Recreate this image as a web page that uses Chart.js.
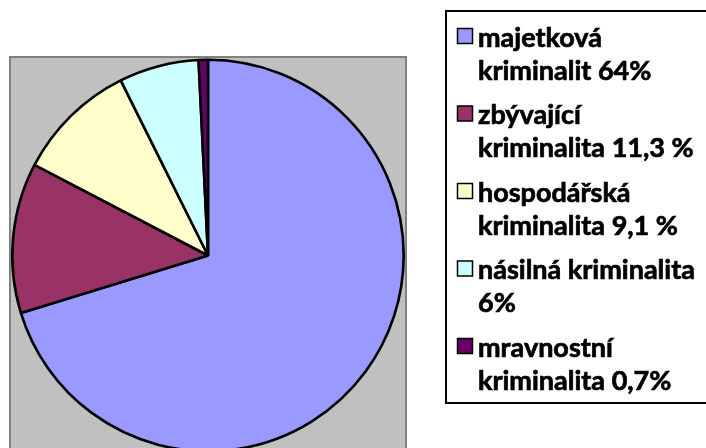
<!DOCTYPE html>
<html>
<head>
<meta charset="utf-8">
<script src="https://cdn.jsdelivr.net/npm/chart.js@4/dist/chart.umd.min.js"></script>
<style>
  html, body { margin: 0; padding: 0; background: #fff; overflow: hidden; }
  #wrap { width: 706px; height: 462px; position: relative; }
</style>
</head>
<body>
<div id="wrap"><canvas id="kriminalitaChart"></canvas></div>
<script>
// druhy kriminality (text legendy po radcich)
var kategorie = [
    ['majetková', 'kriminalit 64%'],
    ['zbývající', 'kriminalita 11,3 %'],
    ['hospodářská', 'kriminalita 9,1 %'],
    ['násilná kriminalita', '6%'],
    ['mravnostní', 'kriminalita 0,7%']
];
var podily = [64, 11.3, 9.1, 6, 0.7];
var barvy = ['#9999FF', '#993366', '#FFFFCC', '#CCFFFF', '#660066'];

// sede pozadi kolem kolace
var pozadiPlugin = {
    id: 'pozadi',
    beforeDraw: function(chart) {
        var ctx = chart.ctx;
        ctx.save();
        ctx.fillStyle = '#C0C0C0';
        ctx.fillRect(10, 57, 396, 420);
        ctx.strokeStyle = '#808080';
        ctx.lineWidth = 2;
        ctx.strokeRect(10, 57, 396, 420);
        ctx.restore();
    }
};

// legenda v ramecku vpravo
var legendaPlugin = {
    id: 'legenda',
    afterDraw: function(chart) {
        var ctx = chart.ctx;
        var labels = chart.data.labels;
        var colors = chart.data.datasets[0].backgroundColor;
        ctx.save();
        ctx.strokeStyle = '#000';
        ctx.lineWidth = 2;
        ctx.strokeRect(446, 11, 270, 392);
        ctx.font = 'bold 27px Lato';
        ctx.textBaseline = 'middle';
        labels.forEach(function(l, i) {
            var y = 38 + i * 77.5;
            ctx.fillStyle = colors[i];
            ctx.fillRect(457.5, 28.5 + i * 77.5, 15, 15);
            ctx.lineWidth = 1.5;
            ctx.strokeStyle = '#000';
            ctx.strokeRect(457.5, 28.5 + i * 77.5, 15, 15);
            ctx.fillStyle = '#000';
            ctx.lineWidth = 0.7;
            l.forEach(function(radek, j) {
                ctx.fillText(radek, 478, y + j * 33);
                ctx.strokeText(radek, 478, y + j * 33);
            });
        });
        ctx.restore();
    }
};

var ctx = document.getElementById('kriminalitaChart').getContext('2d');
var kolac = new Chart(ctx, {
    type: 'pie',
    data: {
        labels: kategorie,
        datasets: [{ data: podily, backgroundColor: barvy, borderColor: '#000', borderWidth: 2.6 }]
    },
    options: {
        responsive: true, maintainAspectRatio: false, animation: false,
        layout: { padding: { left: 11, top: 58, right: 301, bottom: 9 } },
        plugins: { legend: { display: false }, tooltip: { enabled: false } }
    },
    plugins: [pozadiPlugin, legendaPlugin]
});
</script>
</body>
</html>
